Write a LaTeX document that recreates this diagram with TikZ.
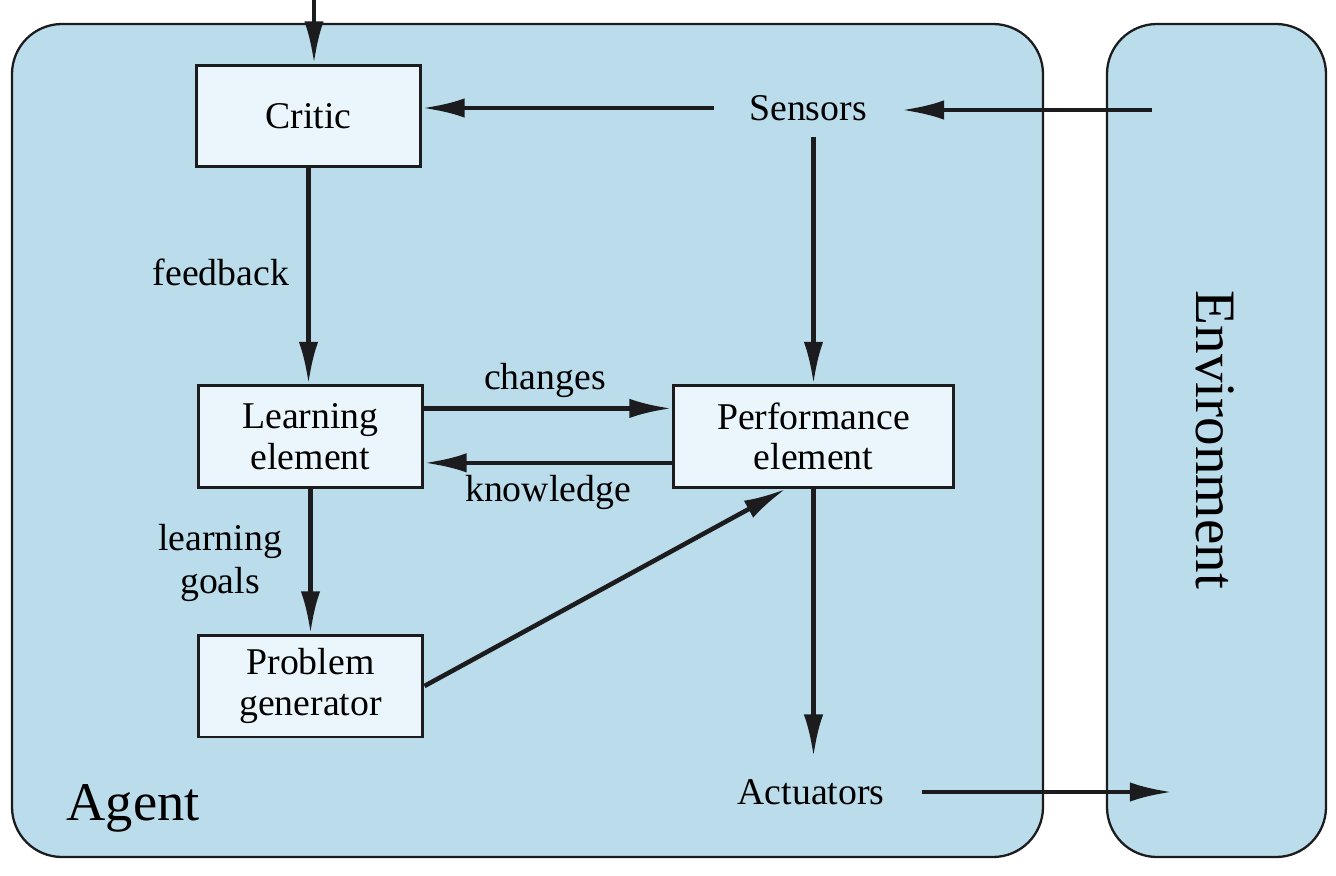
\documentclass[tikz,border=0pt]{standalone}
\usepackage{fontspec}
\setmainfont{Liberation Serif}
\usetikzlibrary{arrows.meta,calc}
\definecolor{agentblue}{HTML}{BADCEB}
\definecolor{boxfill}{HTML}{EBF6FC}
\definecolor{ink}{HTML}{1C1C1E}
\begin{document}
\begin{tikzpicture}[x=0.02cm,y=-0.02cm,
  region/.style={draw=ink,line width=1.3pt,fill=agentblue,rounded corners=1cm},
  unit/.style={draw=ink,line width=1.7pt,fill=boxfill,minimum width=4.5cm,minimum height=2.04cm,inner sep=0pt,align=center,font=\fontsize{21.5}{23}\selectfont},
  perfunit/.style={unit,minimum width=5.62cm},
  plain/.style={inner sep=0pt,align=center,font=\fontsize{21.5}{23}\selectfont},
  lbl/.style={inner sep=0pt,align=center,font=\fontsize{21.5}{25}\selectfont},
  flow/.style={draw=ink,line width=2.6pt,-{Latex[length=24pt,width=11pt]}}]
\useasboundingbox (0,0) rectangle (1336,876);
\fill[white] (0,0) rectangle (1336,876);
\draw[region] (12,24) rectangle (1043,857);
\draw[region] (1107,24) rectangle (1326,857);
\node[inner sep=0pt,font=\fontsize{31}{31}\selectfont] (agent) at (133,808) {Agent};
\node[inner sep=0pt,rotate=-90,font=\fontsize{32.5}{32.5}\selectfont] (env) at (1215,440) {Environment};
\node[unit] (critic) at (308.5,116) {Critic};
\node[unit] (learn) at (310.5,436.5) {Learning\\element};
\node[perfunit] (perf) at (813.5,436.5) {Performance\\element};
\node[unit] (prob) at (310.5,686) {Problem\\generator};
\node[plain,minimum width=3.74cm,minimum height=1.16cm] (sensors) at (808,108) {Sensors};
\node[plain,minimum width=4.44cm,minimum height=1.4cm] (act) at (811,792) {Actuators};
\coordinate (topin) at (314,0);
\coordinate (envin) at (1152,110);
\coordinate (envout) at (1172,792);
\node[lbl] (fb) at (221,272) {feedback};
\node[lbl] (lg) at (220,563) {learning\\goals};
\node[lbl] (ch) at (545,380) {changes};
\node[lbl] (kn) at (548,492) {knowledge};
\draw[flow] (topin) -- (topin |- critic.north);
\draw[flow] (envin) -- (envin -| sensors.east);
\draw[flow] (sensors.west) -- (sensors.west -| critic.east);
\draw[flow] (sensors.south -| perf.north) -- (perf.north);
\draw[flow] (critic.south) -- (critic.south |- learn.north);
\draw[flow] ([yshift=16pt]learn.east) -- ([yshift=16pt]learn.east -| perf.west);
\draw[flow] ([yshift=-15pt]perf.west) -- ([yshift=-15pt]perf.west -| learn.east);
\draw[flow] (learn.south) -- (prob.north);
\draw[flow] (prob.east) -- (perf.242);
\draw[flow] (perf.south) -- (perf.south |- act.north);
\draw[flow] (act.east) -- (envout);
\end{tikzpicture}
\end{document}
